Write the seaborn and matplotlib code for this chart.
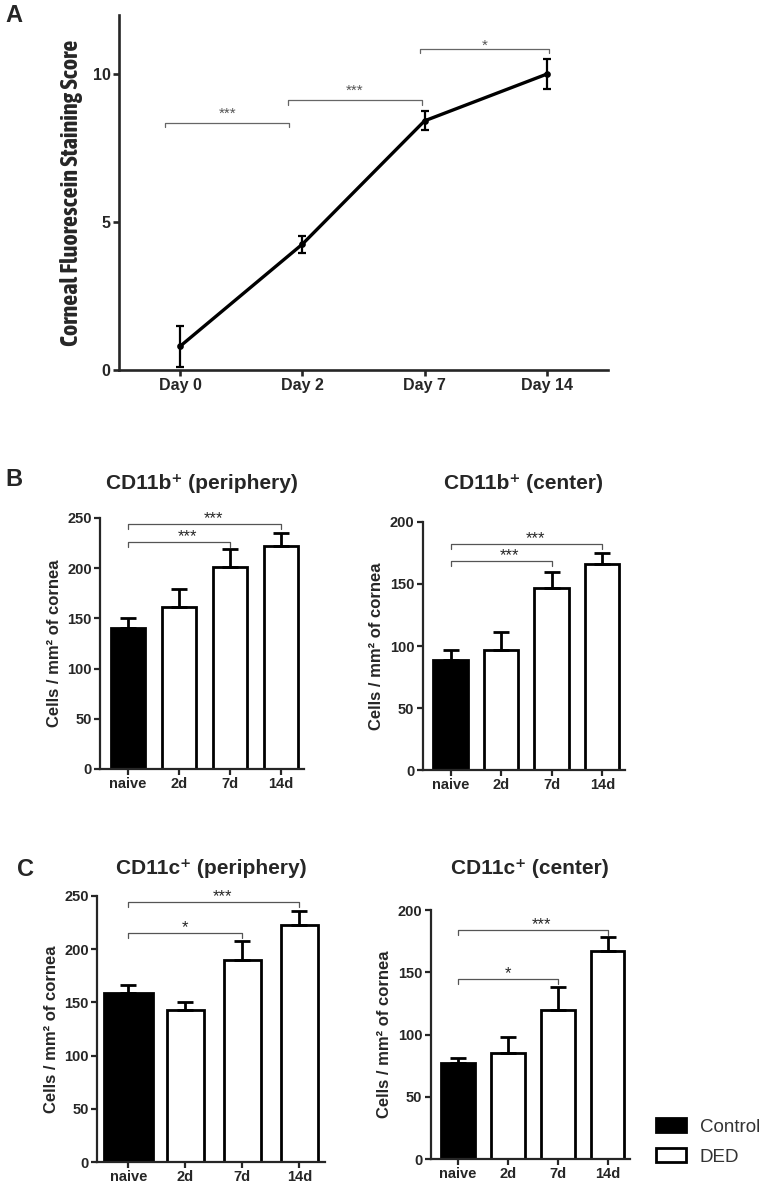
import numpy as np
import pandas as pd
import matplotlib
matplotlib.use("Agg")
import matplotlib.pyplot as plt
from matplotlib.patches import Patch
import seaborn as sns

# --------------------------------------------------------------------
# DATA
# --------------------------------------------------------------------
days = ["Day 0", "Day 2", "Day 7", "Day 14"]
score_mean = [0.8, 4.25, 8.42, 10.0]
score_sem = [0.7, 0.28, 0.32, 0.5]
# (x start, x end, bracket level, star level, label)
score_brackets = [(-0.12, 0.89, 8.36, 8.81, "***"),
                  (0.88, 1.98, 9.11, 9.58, "***"),
                  (1.96, 3.02, 10.86, 11.1, "*")]

groups = ["naive", "2d", "7d", "14d"]
cd11b_periph_mean = [140, 161, 201, 222]
cd11b_periph_sem = [10, 18, 18, 13]
cd11b_center_mean = [89, 97, 147, 166]
cd11b_center_sem = [8, 14, 13, 9]
cd11c_periph_mean = [159, 143, 190, 223]
cd11c_periph_sem = [7, 7, 18, 13]
cd11c_center_mean = [77, 85, 120, 167]
cd11c_center_sem = [4.5, 13, 18, 11.5]

# (group i, group j, bracket level, label)
cd11b_periph_sig = [(0, 2, 226, "***"), (0, 3, 243.7, "***")]
cd11b_center_sig = [(0, 2, 168.8, "***"), (0, 3, 182.5, "***")]
cd11c_periph_sig = [(0, 2, 215.5, "*"), (0, 3, 244.6, "***")]
cd11c_center_sig = [(0, 2, 144.3, "*"), (0, 3, 184, "***")]

# --------------------------------------------------------------------
# STYLE
# --------------------------------------------------------------------
sns.set_style("ticks")
plt.rcParams["font.family"] = ["Liberation Sans", "DejaVu Sans"]
NARROW = ["Asap Condensed", "Liberation Sans"]

BAR_FILL = ["black", "white", "white", "white"]
SPINE_W = 1.6

fig = plt.figure(figsize=(7.67, 11.85), dpi=100)


def style_axes(ax, lw=SPINE_W, labelsize=10.5):
    sns.despine(ax=ax)
    for s in ["left", "bottom"]:
        ax.spines[s].set_linewidth(lw)
    ax.tick_params(direction="out", length=4, width=lw, labelsize=labelsize, pad=2)
    for lab in ax.get_xticklabels() + ax.get_yticklabels():
        lab.set_fontweight("bold")


# --------------------------------------------------------------------
# A. line plot
# --------------------------------------------------------------------
axA = fig.add_axes([0.1551, 0.6878, 0.6375, 0.2996])
sns.pointplot(x=days, y=score_mean, color="black", errorbar=None, markers="o",
              markersize=3, linewidth=2.4, ax=axA)
axA.errorbar(range(len(days)), score_mean, yerr=score_sem, fmt="none", ecolor="black",
             elinewidth=1.6, capsize=2.8, capthick=1.6)
axA.set_xlim(-0.5, 3.5)
axA.set_ylim(0, 12)
axA.set_yticks([0, 5, 10])
axA.set_xlabel("")
axA.set_ylabel("Corneal Fluorescein Staining Score", family=NARROW, fontsize=17.5,
               fontweight="bold")
axA.yaxis.set_label_coords(-0.074, 0.50)
style_axes(axA, lw=1.9, labelsize=11.5)
for x1, x2, y, ys, lab in score_brackets:
    axA.plot([x1, x1, x2, x2], [y - 0.15, y, y, y - 0.15], color="#666666", lw=0.9)
    axA.annotate(lab, ((x1 + x2) / 2, ys), xytext=(0, -3), textcoords="offset points",
                 ha="center", va="center", fontsize=11, color="#555555")


# --------------------------------------------------------------------
# B / C. bar plots
# --------------------------------------------------------------------
def bar_panel(rect, mean, sem, ymax, sig, title, pad, width=0.68, first_width=None):
    ax = fig.add_axes(rect)
    df = pd.DataFrame({"group": groups, "cells": mean})
    sns.barplot(data=df, x="group", y="cells", hue="group", palette=BAR_FILL, width=width,
                edgecolor="black", linewidth=2.0, errorbar=None, legend=False, ax=ax)
    if first_width is not None:
        p = ax.patches[0]
        p.set_x(-first_width / 2)
        p.set_width(first_width)
    ax.errorbar(range(len(groups)), mean, yerr=[np.zeros(len(mean)), sem], fmt="none",
                ecolor="black", elinewidth=2.0, capsize=6, capthick=2.0, zorder=1)
    ax.set_xlim(-0.55, 3.45)
    ax.set_ylim(0, ymax)
    ax.set_yticks(np.arange(0, ymax + 1, 50))
    ax.set_xlabel("")
    ax.set_ylabel("Cells / mm² of cornea", fontsize=12, fontweight="bold", labelpad=4)
    ax.set_title(title, fontsize=15, fontweight="bold", pad=pad)
    style_axes(ax)
    dy = ymax * 0.02
    for i, j, y, lab in sig:
        ax.plot([i, i, j, j], [y - dy, y, y, y - dy], color="#555555", lw=0.9, clip_on=False)
        mid = (i + j) / 2
        if lab == "*":
            ax.annotate(lab, (mid, y), xytext=(0, -1.5), textcoords="offset points",
                        ha="center", va="bottom", fontsize=12, annotation_clip=False)
        else:
            ax.annotate(lab, (mid - 0.02, y), xytext=(0, -1.5), textcoords="offset points",
                        ha="left", va="bottom", fontsize=12, annotation_clip=False)
    return ax


bar_panel([0.1304, 0.3511, 0.2660, 0.2118], cd11b_periph_mean, cd11b_periph_sem, 250,
          cd11b_periph_sig, "CD11b⁺ (periphery)", 21)
bar_panel([0.5511, 0.3502, 0.2638, 0.2093], cd11b_center_mean, cd11b_center_sem, 200,
          cd11b_center_sig, "CD11b⁺ (center)", 24)
bar_panel([0.1265, 0.0194, 0.2973, 0.2245], cd11c_periph_mean, cd11c_periph_sem, 250,
          cd11c_periph_sig, "CD11c⁺ (periphery)", 16, width=0.65, first_width=0.85)
bar_panel([0.5615, 0.0219, 0.2598, 0.2101], cd11c_center_mean, cd11c_center_sem, 200,
          cd11c_center_sig, "CD11c⁺ (center)", 26)

# panel letters
fig.text(0.007, 0.9865, "A", fontsize=17, fontweight="bold", va="center")
fig.text(0.007, 0.595, "B", fontsize=17, fontweight="bold", va="center")
fig.text(0.022, 0.266, "C", fontsize=17, fontweight="bold", va="center")

# legend
handles = [Patch(facecolor="black", edgecolor="black", linewidth=2.0, label="Control"),
           Patch(facecolor="white", edgecolor="black", linewidth=2.0, label="DED")]
fig.legend(handles=handles, loc="upper left", bbox_to_anchor=(0.855, 0.0565), frameon=False,
           fontsize=13.5, handlelength=1.6, handleheight=0.8, handletextpad=0.75,
           labelspacing=0.65, borderpad=0, borderaxespad=0, labelcolor="#333333")

fig.savefig("out.png", dpi=100)
